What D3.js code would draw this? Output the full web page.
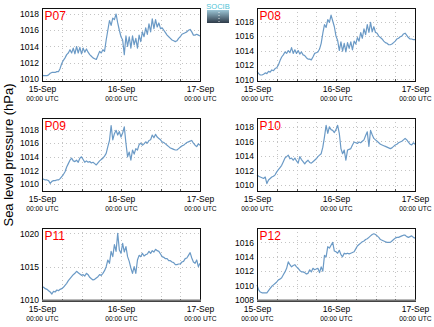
<!DOCTYPE html>
<html><head><meta charset="utf-8">
<script src="https://cdn.jsdelivr.net/npm/d3@7"></script>
<style>body{margin:0;background:#fff}svg{display:block;font-family:"Liberation Sans",Arial,sans-serif}</style>
</head><body><svg id="c" width="434" height="327"></svg>
<script>
const hours = [0,0.5,1,1.5,2,2.5,3,3.5,4,4.5,5,5.5,6,6.5,7,7.5,8,8.5,9,9.5,10,10.5,11,11.5,12,12.5,13,13.5,14,14.5,15,15.5,16,16.5,17,17.5,18,18.5,19,19.5,20,20.5,21,21.5,22,22.5,23,23.5,24,24.5,25,25.5,26,26.5,27,27.5,28,28.5,29,29.5,30,30.5,31,31.5,32,32.5,33,33.5,34,34.5,35,35.5,36,36.5,37,37.5,38,38.5,39,39.5,40,40.5,41,41.5,42,42.5,43,43.5,44,44.5,45,45.5,46,46.5,47,47.5,48];

const p07 = [1010.5,1010.4,1010.4,1010.4,1010.5,1010.7,1010.8,1010.8,1010.8,1010.9,1010.9,1011.3,1011.9,1012.3,1012.6,1013.0,1013.2,1013.6,1013.2,1013.8,1013.1,1014.0,1013.2,1013.9,1013.1,1013.8,1013.3,1013.7,1013.3,1013.0,1012.8,1012.6,1012.5,1012.4,1012.9,1013.4,1013.2,1013.6,1013.4,1014.8,1016.0,1017.2,1016.6,1017.5,1017.3,1018.0,1016.9,1016.0,1015.2,1014.8,1013.0,1015.3,1014.0,1015.2,1013.8,1015.3,1014.2,1015.0,1013.8,1015.4,1014.6,1015.8,1015.2,1016.3,1015.5,1016.8,1015.8,1017.4,1016.2,1017.3,1016.4,1016.9,1016.2,1016.3,1016.0,1015.7,1015.4,1015.2,1015.0,1014.8,1014.7,1014.6,1014.7,1015.0,1015.2,1015.5,1015.6,1015.7,1015.8,1016.0,1016.1,1015.8,1015.4,1015.4,1015.5,1015.4,1015.3];
const p08 = [1011.1,1010.8,1010.6,1010.6,1010.7,1010.9,1010.8,1011.1,1011.0,1011.3,1011.2,1011.5,1011.6,1012.0,1012.6,1013.1,1013.4,1013.8,1013.6,1014.0,1013.7,1014.4,1013.6,1014.1,1013.6,1014.0,1013.5,1013.8,1013.4,1013.3,1013.0,1012.8,1012.8,1012.7,1013.1,1013.6,1013.7,1013.8,1014.2,1015.0,1016.4,1017.6,1017.2,1018.3,1017.9,1018.9,1018.1,1017.3,1016.0,1015.4,1014.0,1015.2,1013.9,1015.0,1013.8,1015.1,1014.3,1015.2,1014.1,1015.3,1014.9,1015.8,1015.3,1016.5,1015.7,1017.0,1016.2,1017.6,1016.5,1017.9,1016.6,1017.3,1016.5,1016.4,1016.0,1015.8,1015.6,1015.3,1015.1,1015.0,1014.8,1014.8,1014.9,1015.1,1015.3,1015.6,1015.7,1015.9,1016.0,1016.3,1016.4,1016.1,1015.8,1015.6,1015.6,1015.5,1015.5];
const p09 = [1010.8,1010.7,1010.6,1010.6,1010.5,1010.1,1010.4,1010.5,1010.5,1010.6,1010.6,1010.8,1011.1,1011.4,1011.8,1012.5,1013.0,1013.5,1013.8,1013.4,1013.3,1013.5,1013.2,1013.8,1014.0,1013.6,1013.2,1013.4,1013.2,1013.3,1013.1,1013.2,1013.0,1012.8,1013.1,1013.4,1013.6,1013.8,1014.1,1014.5,1015.5,1016.4,1018.6,1016.5,1017.4,1017.9,1017.2,1017.7,1016.9,1017.5,1018.4,1016.0,1014.0,1014.7,1013.5,1015.0,1014.4,1015.2,1015.0,1015.8,1016.0,1015.7,1015.9,1016.2,1016.0,1016.4,1016.5,1017.2,1016.8,1017.3,1016.9,1016.7,1016.5,1016.2,1016.1,1015.9,1015.7,1015.5,1015.3,1015.2,1015.1,1015.0,1015.0,1015.2,1015.4,1015.6,1015.7,1015.9,1016.1,1016.2,1016.3,1016.4,1016.0,1015.7,1015.5,1015.9,1015.7];
const p10 = [1011.4,1011.2,1011.1,1011.0,1010.9,1011.1,1010.2,1010.7,1010.9,1011.1,1011.2,1011.4,1011.8,1012.1,1012.4,1012.7,1013.2,1013.7,1013.9,1014.1,1013.6,1013.7,1013.4,1013.7,1013.3,1013.0,1013.9,1013.5,1013.2,1012.9,1013.2,1013.4,1013.1,1013.0,1013.2,1013.4,1013.6,1013.9,1014.1,1014.3,1015.2,1016.6,1018.2,1017.1,1018.0,1017.6,1017.5,1017.2,1017.6,1018.2,1017.1,1015.0,1014.3,1014.8,1013.4,1014.8,1014.9,1015.0,1015.5,1015.9,1015.8,1015.7,1015.9,1015.8,1016.0,1016.2,1016.8,1017.3,1015.3,1017.5,1016.9,1016.4,1016.2,1016.0,1015.8,1015.6,1015.5,1015.4,1015.3,1015.2,1015.1,1015.0,1015.1,1015.3,1015.5,1015.6,1015.8,1015.9,1016.0,1016.2,1016.4,1016.2,1015.9,1015.6,1015.5,1015.8,1015.6];
const p11 = [1012.0,1011.9,1011.7,1011.6,1011.4,1011.2,1010.9,1011.3,1011.2,1011.5,1011.4,1011.6,1011.7,1011.9,1012.2,1012.5,1012.9,1013.2,1013.5,1013.8,1014.0,1014.3,1014.1,1013.9,1013.7,1013.8,1013.6,1014.0,1013.8,1013.4,1013.2,1013.0,1013.1,1013.3,1013.5,1013.8,1013.7,1014.0,1014.4,1015.0,1016.0,1015.5,1017.3,1016.5,1018.3,1017.3,1020.0,1017.5,1017.0,1018.5,1017.2,1018.0,1016.5,1015.8,1014.8,1014.0,1015.0,1014.0,1016.0,1016.7,1016.5,1017.0,1016.6,1016.8,1016.9,1017.3,1017.0,1017.4,1017.2,1017.6,1017.4,1017.3,1016.9,1016.5,1016.4,1016.2,1016.2,1015.9,1015.9,1015.7,1015.6,1015.3,1015.3,1015.4,1015.4,1015.7,1015.8,1016.2,1016.3,1016.7,1017.1,1016.3,1015.7,1015.5,1016.0,1015.0,1015.5];
const p12 = [1010.1,1009.4,1009.1,1009.0,1009.0,1009.0,1009.0,1009.3,1009.6,1009.9,1010.1,1010.3,1010.5,1010.8,1010.9,1011.1,1011.5,1011.9,1012.4,1013.3,1012.9,1012.6,1012.8,1012.9,1012.6,1012.4,1012.1,1011.9,1011.9,1011.8,1011.6,1011.7,1012.2,1011.9,1012.4,1012.2,1012.3,1012.4,1011.8,1012.6,1012.0,1014.2,1014.0,1015.4,1015.2,1015.6,1016.0,1014.8,1014.7,1014.5,1014.9,1014.3,1014.0,1014.5,1014.4,1014.5,1014.4,1014.5,1014.6,1014.7,1015.1,1015.5,1015.7,1015.9,1016.1,1016.2,1016.4,1016.5,1016.7,1016.9,1017.1,1017.2,1017.1,1016.9,1016.7,1016.4,1016.3,1016.2,1016.1,1016.0,1016.0,1016.0,1016.2,1016.4,1016.6,1016.7,1016.7,1016.8,1016.9,1017.0,1017.0,1016.8,1016.7,1016.8,1016.9,1016.7,1016.6];

const stations = ["P07","P08","P09","P10","P11","P12"];
const seriesList = [p07,p08,p09,p10,p11,p12];
const yDomains = [[1009.75,1018.74],[1009.77,1019.9],[1008.98,1019.7],[1009.18,1019.2],[1009.85,1020.8],[1007.86,1018.0]];
const yTickValues = [[1010,1012,1014,1016,1018],[1010,1012,1014,1016,1018],[1010,1012,1014,1016,1018],[1010,1012,1014,1016,1018],[1010,1015,1020],[1008,1010,1012,1014,1016]];
const dateTicks = [0,24,48];
const dateLabels = ["15-Sep","16-Sep","17-Sep"];
const timeLabel = "00:00 UTC";
const gridHours = [6,12,18,24,30,36,42];
const yTitle = "Sea level pressure (hPa)";

const svg = d3.select("#c");
const colX = [42,257], rowY = [8,118,228], pw = 158, ph = 73;
const lineColor = "#6b9ac6";

stations.forEach((name,i)=>{
  const px = colX[i%2], py = rowY[Math.floor(i/2)];
  const g = svg.append("g").attr("transform",`translate(${px},${py})`);
  const x = d3.scaleLinear().domain([0,48]).range([0,pw]);
  const y = d3.scaleLinear().domain(yDomains[i]).range([ph,0]);
  g.append("g").selectAll("line.v").data(gridHours).join("line")
    .attr("x1",d=>Math.round(x(d))+0.5).attr("x2",d=>Math.round(x(d))+0.5).attr("y1",0).attr("y2",ph)
    .attr("stroke","#c4c4c4").attr("stroke-width",1).attr("stroke-dasharray","1,3");
  g.append("g").selectAll("line.h").data(yTickValues[i]).join("line")
    .attr("x1",0).attr("x2",pw).attr("y1",d=>Math.round(y(d))+0.5).attr("y2",d=>Math.round(y(d))+0.5)
    .attr("stroke","#c4c4c4").attr("stroke-width",1).attr("stroke-dasharray","1,3");
  g.append("g").selectAll("line.t").data(gridHours).join("line")
    .attr("x1",d=>Math.round(x(d))+0.5).attr("x2",d=>Math.round(x(d))+0.5).attr("y1",ph).attr("y2",ph-2)
    .attr("stroke","#555").attr("stroke-width",1);
  const line = d3.line().x((d,j)=>x(hours[j])).y(d=>y(d));
  g.append("path").datum(seriesList[i]).attr("d",line)
    .attr("fill","none").attr("stroke",lineColor).attr("stroke-width",1.2).attr("stroke-linejoin","round");
  g.append("rect").attr("x",0.5).attr("y",0.5).attr("width",pw).attr("height",ph)
    .attr("fill","none").attr("stroke","#111").attr("stroke-width",1);
  if (i>=4) {
    g.append("line").attr("x1",0).attr("x2",pw+1).attr("y1",ph-0.5).attr("y2",ph-0.5)
      .attr("stroke","#777").attr("stroke-width",2);
  }
  const ya = d3.axisLeft(y).tickValues(yTickValues[i]).tickSize(0).tickPadding(3).tickFormat(d3.format("d"));
  const yg = g.append("g").call(ya);
  yg.select(".domain").remove();
  yg.selectAll("text").attr("font-size","8.5px").attr("fill","#000").attr("font-family","Liberation Sans, Arial, sans-serif");
  const xa = d3.axisBottom(x).tickValues(dateTicks).tickSize(0).tickPadding(0).tickFormat((d,k)=>dateLabels[k]);
  const xg = g.append("g").attr("transform",`translate(0,${ph})`).call(xa);
  xg.select(".domain").remove();
  xg.selectAll("text").attr("font-size","8.5px").attr("fill","#000").attr("dy",null).attr("y",11)
    .attr("font-family","Liberation Sans, Arial, sans-serif");
  xg.selectAll(".tick").append("text").text(timeLabel).attr("y",20)
    .attr("font-size","6.7px").attr("fill","#000").attr("text-anchor","middle")
    .attr("font-family","Liberation Sans, Arial, sans-serif");
  g.append("text").text(name).attr("x",2.5).attr("y",11.5)
    .attr("font-size","12px").attr("fill","#f00");
});

svg.append("text").text(yTitle).attr("transform","translate(13,155) rotate(-90)")
  .attr("text-anchor","middle").attr("font-size","13px").attr("fill","#000");

const defs = svg.append("defs");
const grad = defs.append("linearGradient").attr("id","lg").attr("x1",0).attr("y1",0).attr("x2",0).attr("y2",1);
grad.append("stop").attr("offset","0%").attr("stop-color","#9cc6d6");
grad.append("stop").attr("offset","100%").attr("stop-color","#2d3a48");
svg.append("rect").attr("x",207).attr("y",10).attr("width",22).attr("height",13).attr("fill","url(#lg)");
svg.append("line").attr("x1",219).attr("x2",219).attr("y1",12).attr("y2",22)
  .attr("stroke","#fff").attr("stroke-width",0.8).attr("stroke-dasharray","1,2");
svg.append("text").text("SOCIB").attr("x",218).attr("y",9).attr("text-anchor","middle")
  .attr("font-size","7.5px").attr("fill","#4fc3d6");
</script></body></html>
